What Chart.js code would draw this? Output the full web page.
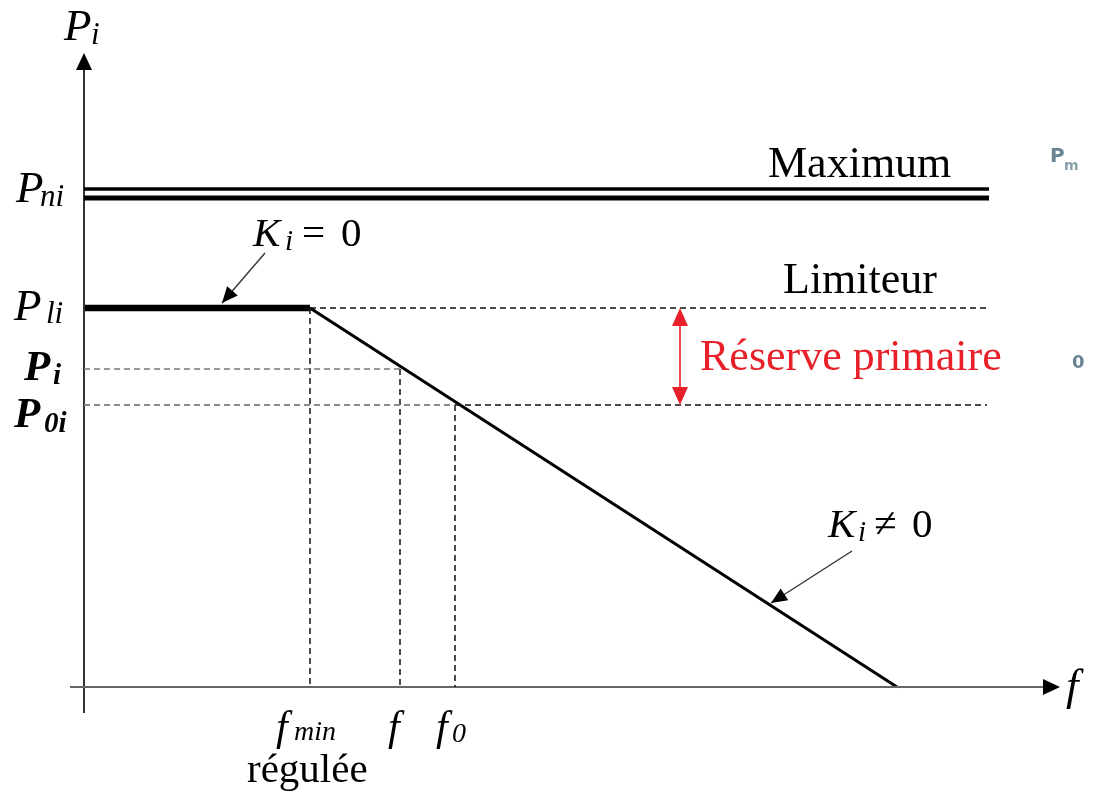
<!DOCTYPE html>
<html>
<head>
<meta charset="utf-8">
<script src="https://cdn.jsdelivr.net/npm/chart.js@4.4.1/dist/chart.umd.min.js"></script>
<style>
  body { margin: 0; background: #fff; }
</style>
</head>
<body>
<canvas id="cnvDroop" width="1093" height="797"></canvas>
<script>
// schematic values (units from the axis crossing)
const maxLevels = [498, 489]          // double line "Maximum" (Pni)
const limitLevel = 379                // Pli, limiteur
const powerLevels = [318, 282]        // Pi, P0i
const freqMarks = [226, 316, 371]     // fmin, f, f0
const droopEnd = 813                  // where the droop reaches P = 0
const maxLineEnd = 905
const dashEnd = 903
const reserveAt = 596
const axisX = [-14, 976]
const axisY = [-26, 634]

const SERIF = '"Liberation Serif", "DejaVu Serif", serif'

function seg(x1, y1, x2, y2) {
  return [{ x: x1, y: y1 }, { x: x2, y: y2 }]
}

function lineSet(data, color, width, dash) {
  return {
    data: data,
    showLine: true,
    borderColor: color,
    borderWidth: width,
    borderDash: dash || [],
    pointRadius: 0,
    fill: false,
    clip: false,
    tension: 0,
  }
}

let datasets = [
  lineSet(seg(0, maxLevels[0], maxLineEnd, maxLevels[0]), '#000', 3.5),
  lineSet(seg(0, maxLevels[1], maxLineEnd, maxLevels[1]), '#000', 5),
  lineSet(seg(freqMarks[0], limitLevel, dashEnd, limitLevel), '#111', 1.5, [6, 4]),
  lineSet(seg(freqMarks[2], powerLevels[1], dashEnd, powerLevels[1]), '#111', 1.5, [6, 4]),
  lineSet(seg(0, powerLevels[0], freqMarks[1], powerLevels[0]), '#777', 1.6, [6, 4]),
  lineSet(seg(0, powerLevels[1], freqMarks[2], powerLevels[1]), '#888', 1.8, [6, 4]),
  lineSet(seg(freqMarks[0], limitLevel, freqMarks[0], 0), '#111', 1.5, [6, 4]),
  lineSet(seg(freqMarks[1], powerLevels[0], freqMarks[1], 0), '#111', 1.5, [6, 4]),
  lineSet(seg(freqMarks[2], powerLevels[1], freqMarks[2], 0), '#111', 1.5, [6, 4]),
  lineSet(seg(axisX[0], 0, axisX[1] - 14, 0), '#666', 2.2),
  lineSet(seg(0, axisY[0], 0, axisY[1] - 14), '#333', 2),
  lineSet(seg(0, limitLevel, freqMarks[0], limitLevel), '#000', 6.5),
  lineSet(seg(freqMarks[0], limitLevel, droopEnd, 0), '#000', 3),
  lineSet(seg(reserveAt, limitLevel - 14, reserveAt, powerLevels[1] + 14), '#e8202a', 1.6),
]

function arrowHead(ctx, x1, y1, x2, y2, len, half, color) {
  let a = Math.atan2(y2 - y1, x2 - x1)
  let bx = x2 - len * Math.cos(a)
  let by = y2 - len * Math.sin(a)
  ctx.beginPath()
  ctx.moveTo(x2, y2)
  ctx.lineTo(bx + half * Math.sin(a), by - half * Math.cos(a))
  ctx.lineTo(bx - half * Math.sin(a), by + half * Math.cos(a))
  ctx.closePath()
  ctx.fillStyle = color
  ctx.fill()
}

function txt(ctx, s, x, y, font, color) {
  ctx.font = font
  ctx.fillStyle = color || '#000'
  ctx.textBaseline = 'alphabetic'
  ctx.textAlign = 'left'
  ctx.fillText(s, x, y)
}

const decorations = {
  id: 'decorations',
  afterDatasetsDraw(chart) {
    let ctx = chart.ctx
    let xs = chart.scales.x
    let ys = chart.scales.y
    let px = (v) => xs.getPixelForValue(v)
    let py = (v) => ys.getPixelForValue(v)
    ctx.save()

    // axis arrows
    arrowHead(ctx, px(0), py(0), px(axisX[1]), py(0), 17, 8, '#000')
    arrowHead(ctx, px(0), py(0), px(0), py(axisY[1]), 17, 8, '#000')

    // reserve arrow (red, both ends)
    arrowHead(ctx, px(reserveAt), py(powerLevels[1]), px(reserveAt), py(limitLevel), 18, 8, '#e8202a')
    arrowHead(ctx, px(reserveAt), py(limitLevel), px(reserveAt), py(powerLevels[1]), 18, 8, '#e8202a')

    // annotation arrows for Ki
    let notes = [
      [181, 434, 138, 384],
      [768, 136, 687, 84],
    ]
    notes.forEach((n) => {
      ctx.beginPath()
      ctx.moveTo(px(n[0]), py(n[1]))
      ctx.lineTo(px(n[2]), py(n[3]))
      ctx.strokeStyle = '#333'
      ctx.lineWidth = 1.4
      ctx.stroke()
      arrowHead(ctx, px(n[0]), py(n[1]), px(n[2]), py(n[3]), 16, 7, '#000')
    })

    let it = 'italic 45px ' + SERIF
    let itSub = 'italic 31px ' + SERIF
    let bi = 'bold italic 43px ' + SERIF
    let biSub = 'bold italic 29px ' + SERIF
    let rg = '44px ' + SERIF

    // axis titles
    txt(ctx, 'P', 64, 40, it)
    txt(ctx, 'i', 91, 44, itSub)
    txt(ctx, 'f', 1066, 700, it)

    // level labels
    txt(ctx, 'P', 16, 202, it)
    txt(ctx, 'ni', 40, 206, itSub)
    txt(ctx, 'P', 14, 320, it)
    txt(ctx, 'li', 46, 323, itSub)
    txt(ctx, 'P', 24, 380, bi)
    txt(ctx, 'i', 53, 384, biSub)
    txt(ctx, 'P', 14, 427, bi)
    txt(ctx, '0i', 44, 432, biSub)

    // frequency labels
    txt(ctx, 'f', 276, 740, 'italic 42px ' + SERIF)
    txt(ctx, 'min', 294, 740, 'italic 28px ' + SERIF)
    txt(ctx, 'f', 388, 740, 'italic 42px ' + SERIF)
    txt(ctx, 'f', 436, 740, 'italic 42px ' + SERIF)
    txt(ctx, '0', 452, 742, 'italic 28px ' + SERIF)
    txt(ctx, 'régulée', 247, 782, '41px ' + SERIF)

    // line names
    txt(ctx, 'Maximum', 768, 177, rg)
    txt(ctx, 'Limiteur', 783, 293, rg)
    txt(ctx, 'Réserve primaire', 700, 370, rg, '#e8202a')

    // Ki labels
    txt(ctx, 'K', 253, 246, 'italic 41px ' + SERIF)
    txt(ctx, 'i', 285, 250, 'italic 29px ' + SERIF)
    txt(ctx, '=', 302, 246, '41px ' + SERIF)
    txt(ctx, '0', 341, 246, '41px ' + SERIF)
    txt(ctx, 'K', 828, 537, 'italic 41px ' + SERIF)
    txt(ctx, 'i', 858, 541, 'italic 29px ' + SERIF)
    txt(ctx, '≠', 874, 537, '41px ' + SERIF)
    txt(ctx, '0', 912, 537, '41px ' + SERIF)

    // faint leftovers at the right edge of the scan
    txt(ctx, 'P', 1050, 162, 'bold 20px "DejaVu Sans"', 'rgba(40,80,100,0.7)')
    txt(ctx, 'm', 1064, 170, 'bold 14px "DejaVu Sans"', 'rgba(40,80,100,0.55)')
    txt(ctx, '0', 1072, 368, 'bold 18px "DejaVu Sans"', 'rgba(40,80,100,0.7)')

    ctx.restore()
  },
}

let ctx = document.getElementById('cnvDroop').getContext('2d')
let chart = new Chart(ctx, {
  type: 'scatter',
  data: { datasets: datasets },
  options: {
    responsive: false,
    animation: false,
    events: [],
    layout: { padding: { left: 70, right: 23, top: 53, bottom: 84 } },
    plugins: { legend: { display: false }, tooltip: { enabled: false } },
    scales: {
      x: { type: 'linear', min: -14, max: 986, display: false },
      y: { type: 'linear', min: -26, max: 634, display: false },
    },
  },
  plugins: [decorations],
})
</script>
</body>
</html>
